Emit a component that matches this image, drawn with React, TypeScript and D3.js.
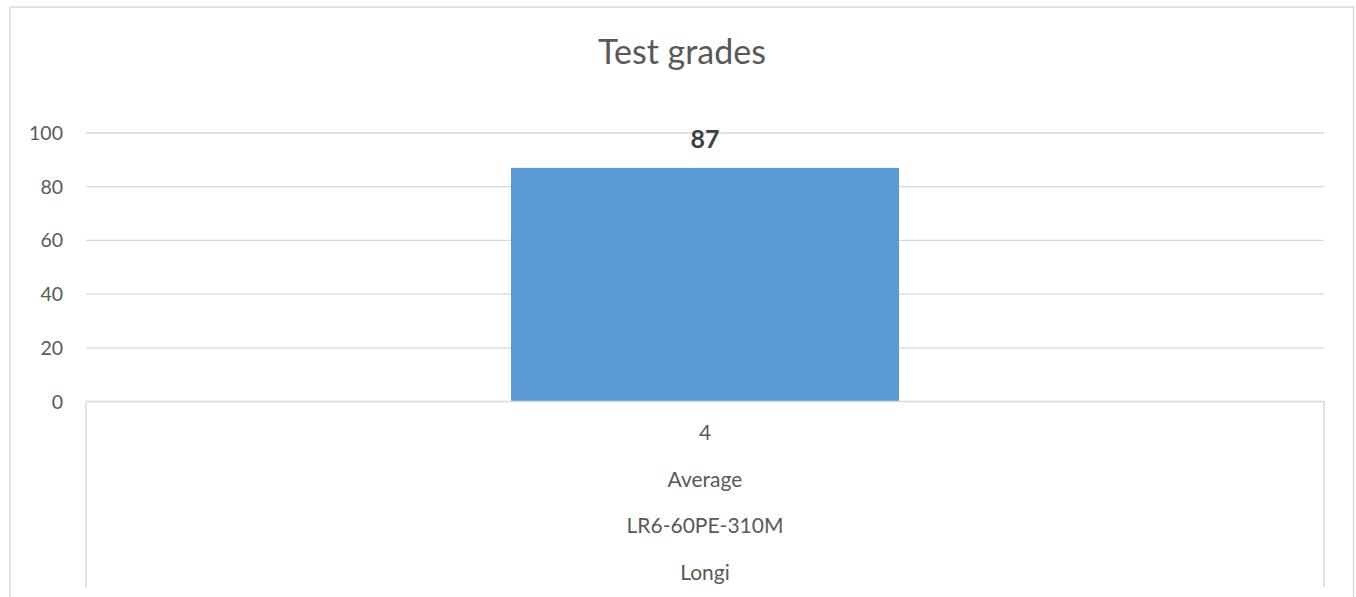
import React, { useEffect, useRef } from 'react';
import * as d3 from 'd3';

// chart data
const categories = ['4'];
const grades = [87];
// multi-level category labels, top to bottom
const categoryLevels = [['4'], ['Average'], ['LR6-60PE-310M'], ['Longi']];
const yTicks = [0, 20, 40, 60, 80, 100];
const chartTitle = 'Test grades';

const textColor = '#595959';
const gridColor = '#d9d9d9';
const barColor = '#5b9bd5';
const font = 'Lato, "Open Sans", sans-serif';

const App = () => {
  const ref = useRef<SVGSVGElement | null>(null);

  useEffect(() => {
    const height = 597;
    const plot = { left: 86, right: 1324, top: 133, bottom: 401.5 };

    const svg = d3.select(ref.current);
    svg.selectAll('*').remove();

    // outer chart border
    svg
      .append('rect')
      .attr('x', 10)
      .attr('y', 7)
      .attr('width', 1343.5)
      .attr('height', height + 10)
      .attr('fill', 'white')
      .attr('stroke', gridColor)
      .attr('stroke-width', 1.5);

    // title
    svg
      .append('text')
      .attr('x', 682)
      .attr('y', 64)
      .attr('text-anchor', 'middle')
      .attr('font-family', font)
      .attr('font-size', 34)
      .attr('fill', textColor)
      .text(chartTitle);

    const y = d3.scaleLinear().domain([0, 100]).range([plot.bottom, plot.top]);

    // gap width 219% like excel
    const x = d3
      .scaleBand()
      .domain(categories)
      .range([plot.left, plot.right])
      .padding(2.19 / 4.19);

    // gridlines
    svg
      .append('g')
      .selectAll('line')
      .data(yTicks.filter((d) => d > 0))
      .enter()
      .append('line')
      .attr('x1', plot.left)
      .attr('x2', plot.right)
      .attr('y1', (d) => y(d))
      .attr('y2', (d) => y(d))
      .attr('stroke', gridColor)
      .attr('stroke-width', 1.3);

    // y tick labels
    svg
      .append('g')
      .selectAll('text')
      .data(yTicks)
      .enter()
      .append('text')
      .attr('x', 63)
      .attr('y', (d) => y(d))
      .attr('dy', '0.36em')
      .attr('text-anchor', 'end')
      .attr('font-family', font)
      .attr('font-size', 19.5)
      .attr('fill', textColor)
      .text((d) => d);

    // bars
    svg
      .append('g')
      .selectAll('rect')
      .data(grades)
      .enter()
      .append('rect')
      .attr('x', (d, i) => x(categories[i]) as number)
      .attr('y', (d) => y(d))
      .attr('width', x.bandwidth())
      .attr('height', (d) => y(0) - y(d))
      .attr('fill', barColor);

    // data labels
    svg
      .append('g')
      .selectAll('text')
      .data(grades)
      .enter()
      .append('text')
      .attr('x', (d, i) => (x(categories[i]) as number) + x.bandwidth() / 2)
      .attr('y', (d) => y(d) - 20)
      .attr('text-anchor', 'middle')
      .attr('font-family', font)
      .attr('font-weight', 'bold')
      .attr('font-size', 25)
      .attr('fill', '#404040')
      .text((d) => d);

    // category axis with level boxes
    const axis = svg.append('g').attr('stroke', gridColor).attr('stroke-width', 1.5);
    axis
      .append('line')
      .attr('x1', plot.left)
      .attr('x2', plot.right)
      .attr('y1', y(0))
      .attr('y2', y(0));
    [plot.left, plot.right].forEach((px) => {
      axis
        .append('line')
        .attr('x1', px)
        .attr('x2', px)
        .attr('y1', y(0))
        .attr('y2', 587);
    });

    const levelBaselines = [440, 487, 533, 580];
    categoryLevels.forEach((labels, li) => {
      svg
        .append('g')
        .selectAll('text')
        .data(labels)
        .enter()
        .append('text')
        .attr('x', (d, i) => (x(categories[i]) as number) + x.bandwidth() / 2)
        .attr('y', levelBaselines[li])
        .attr('text-anchor', 'middle')
        .attr('font-family', font)
        .attr('font-size', 21)
        .attr('fill', textColor)
        .text((d) => d);
    });
  }, []);

  return (
    <svg
      ref={ref}
      width={1356}
      height={597}
      style={{ position: 'absolute', left: 0, top: 0, display: 'block' }}
    />
  );
};

export default App;
